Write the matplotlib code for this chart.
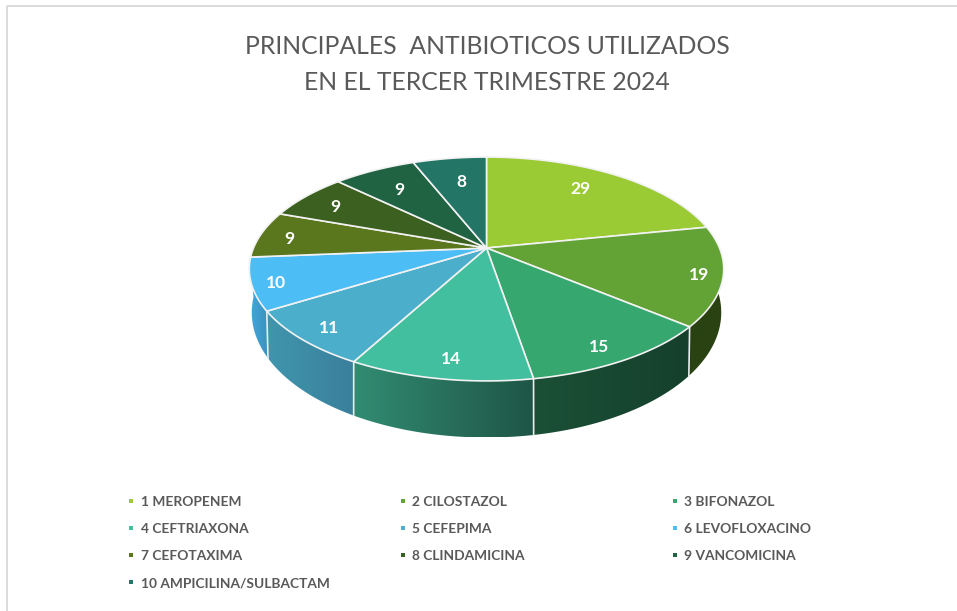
import numpy as np
import matplotlib
matplotlib.use('Agg')
import matplotlib.pyplot as plt
from matplotlib.colors import LinearSegmentedColormap
from matplotlib.patches import Polygon

title_lines = ['PRINCIPALES  ANTIBIOTICOS UTILIZADOS', 'EN EL TERCER TRIMESTRE 2024']
names = ['1 MEROPENEM', '2 CILOSTAZOL', '3 BIFONAZOL', '4 CEFTRIAXONA', '5 CEFEPIMA',
         '6 LEVOFLOXACINO', '7 CEFOTAXIMA', '8 CLINDAMICINA', '9 VANCOMICINA',
         '10 AMPICILINA/SULBACTAM']
values = [29, 19, 15, 14, 11, 10, 9, 9, 9, 8]
colors = ['#9acb34', '#63a235', '#36a76f', '#42bf9f', '#4bafcc',
          '#4dbdf5', '#5b771e', '#3c6020', '#206342', '#237565']
# side wall gradient, left to right on screen
wall_colors = {1: ('#2a4212', '#2a4212'), 2: ('#1b5036', '#15402c'), 3: ('#318c72', '#1f5546'),
               4: ('#4096ad', '#3a7f9c'), 5: ('#46a6dc', '#3a93bf')}
label_r = [0.72, 0.90, 0.85, 0.87, 0.87, 0.91, 0.87, 0.82, 0.75, 0.73]
# small nudges in pixels for the labels the radius alone can't place
label_dx = [-2, 0, -2, 4, 0, 2, 0, -1, 0, 3]
label_dy = [-4.5, 2.5, 6.5, 0.5, 2.5, 2.5, 2.5, 2.5, 2.5, 2.5]

# pixel geometry of the tilted disc
CX, CY = 486.5, 248
R, H, K = 233, 108, 0.1875
BOT_R, BOT_H, BOT_K, BOT_CY = 230, 120, 0.2, 287.5


def top_xy(deg, r=1.0):
    a = np.radians(deg)
    x, y = r * np.sin(a), r * np.cos(a)
    w = 1 + K * y
    return CX + R * x / w, CY - H * y / w


def bottom_xy(deg):
    a = np.radians(deg)
    x, y = np.sin(a), np.cos(a)
    w = 1 + BOT_K * y
    return CX + BOT_R * x / w, BOT_CY - BOT_H * y / w


def arc(func, a, b):
    t = np.linspace(a, b, 80)
    return np.column_stack(func(t))


fig = plt.figure(figsize=(9.57, 6.11), dpi=100)
ax = fig.add_axes([0, 0, 1, 1])
ax.axis('off')

edges = np.cumsum([0] + values) / sum(values) * 360

# side walls first, the top faces cover whatever is left over
for i, (c_left, c_right) in wall_colors.items():
    a, b = edges[i], edges[i + 1]
    pts = np.vstack([arc(top_xy, a, b), arc(bottom_xy, b, a)])
    patch = Polygon(pts, closed=True, transform=ax.transData, fc='none', ec='none')
    ax.add_patch(patch)
    cmap = LinearSegmentedColormap.from_list('wall', [c_left, c_right])
    grad = np.linspace(0, 1, 256).reshape(1, -1)
    x0, x1 = pts[:, 0].min(), pts[:, 0].max()
    if i == 5:
        x1 = min(x1, 275)
    im = ax.imshow(grad, cmap=cmap, aspect='auto', extent=[x0, x1, pts[:, 1].max(), pts[:, 1].min()],
                   zorder=1)
    im.set_clip_path(patch)

for i in [2, 3, 4, 5]:
    p0, p1 = top_xy(edges[i]), bottom_xy(edges[i])
    ax.plot([p0[0], p1[0]], [p0[1], p1[1]], color='#e8eeee', lw=1.2, zorder=2)

for i, v in enumerate(values):
    pts = np.vstack([[CX, CY], arc(top_xy, edges[i], edges[i + 1])])
    ax.add_patch(Polygon(pts, closed=True, fc=colors[i], ec='#f2f2f2', lw=1.2, zorder=3,
                         joinstyle='round'))

for i, v in enumerate(values):
    mid = (edges[i] + edges[i + 1]) / 2
    lx, ly = top_xy(mid, label_r[i])
    ax.text(lx + label_dx[i], ly + label_dy[i], str(v), color='white', fontsize=12.5,
            fontweight='bold', family='Lato', ha='center', va='center', zorder=4)

for line, y in zip(title_lines, [46, 82]):
    ax.text(487, y, line, color='#595959', fontsize=17.8, family='Lato', ha='center', va='center')

# legend, filled row by row
col_x = [131, 402.5, 674.5]
row_y = [502, 529, 556, 583]
for i, name in enumerate(names):
    x, y = col_x[i % 3], row_y[i // 3]
    ax.plot([x], [y - 1], marker='s', ms=2.8, color=colors[i], mew=0)
    ax.text(x + 10, y, name, color='#595959', fontsize=9.9, fontweight='bold', family='Lato',
            ha='left', va='center')

# chart area border, only top and left are in the crop
ax.plot([6.5, 6.5, 957], [611, 5.5, 5.5], color='#d9d9d9', lw=1.3, zorder=5)

ax.set_xlim(0, 957)
ax.set_ylim(611, 0)
fig.savefig('out.png', dpi=100, facecolor='white')
